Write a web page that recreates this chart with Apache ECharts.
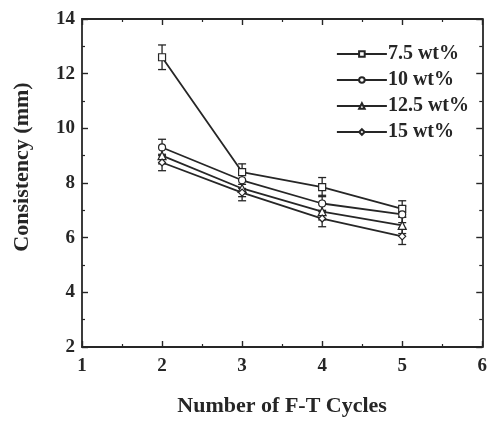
<!DOCTYPE html>
<html>
<head>
<meta charset="utf-8">
<script src="https://cdn.jsdelivr.net/npm/echarts@6/dist/echarts.min.js"></script>
<style>
  html, body { margin: 0; padding: 0; background: #fff; }
  #chart { width: 490px; height: 422px; }
</style>
</head>
<body>
<div id="chart"></div>
<script>
// Freeze-thaw cycles on the x axis
const cycles = [2, 3, 4, 5];

// Consistency (mm) for each concentration, with standard deviations
const seriesNames = ['7.5 wt%', '10 wt%', '12.5 wt%', '15 wt%'];
const c75  = [12.6, 8.4, 7.85, 7.05];
const c10  = [9.3, 8.1, 7.25, 6.85];
const c125 = [9.0, 7.8, 6.95, 6.45];
const c15  = [8.75, 7.65, 6.7, 6.05];
const e75  = [0.45, 0.3, 0.35, 0.3];
const e10  = [0.3, 0.3, 0.3, 0.3];
const e125 = [0.3, 0.3, 0.3, 0.3];
const e15  = [0.3, 0.3, 0.3, 0.3];

const xTicks = [1, 2, 3, 4, 5, 6];
const yTicks = [2, 4, 6, 8, 10, 12, 14];

const values = [c75, c10, c125, c15];
const errors = [e75, e10, e125, e15];
const symbols = ['rect', 'circle', 'triangle', 'diamond'];

const ink = '#262626';
const serif = '"Liberation Serif", "DejaVu Serif", serif';

const chart = echarts.init(document.getElementById('chart'));

const lineSeries = values.map((vals, i) => ({
  name: seriesNames[i],
  type: 'line',
  data: cycles.map((c, j) => [c, vals[j]]),
  symbol: symbols[i],
  symbolSize: symbols[i] === 'triangle' ? 8 : 7,
  lineStyle: { color: ink, width: 1.8 },
  itemStyle: { color: '#fff', borderColor: ink, borderWidth: 1.2 },
  z: 3
}));

const errorSeries = values.map((vals, i) => ({
  type: 'custom',
  data: cycles.map((c, j) => [c, vals[j] - errors[i][j], vals[j] + errors[i][j]]),
  renderItem: function (params, api) {
    const lo = api.coord([api.value(0), api.value(1)]);
    const hi = api.coord([api.value(0), api.value(2)]);
    const w = 4;
    const st = { stroke: ink, lineWidth: 1.3 };
    return {
      type: 'group',
      children: [
        { type: 'line', shape: { x1: lo[0], y1: lo[1], x2: hi[0], y2: hi[1] }, style: st },
        { type: 'line', shape: { x1: lo[0] - w, y1: lo[1], x2: lo[0] + w, y2: lo[1] }, style: st },
        { type: 'line', shape: { x1: hi[0] - w, y1: hi[1], x2: hi[0] + w, y2: hi[1] }, style: st }
      ]
    };
  },
  z: 2,
  silent: true
}));

const tickCommon = {
  axisLine: { show: true, lineStyle: { color: ink, width: 1.8 } },
  axisTick: { show: true, inside: true, length: 6, lineStyle: { color: ink, width: 1.4 } },
  minorTick: { show: true, splitNumber: 2, length: 3, lineStyle: { color: ink, width: 1.2 } },
  splitLine: { show: false }
};

chart.setOption({
  animation: false,
  backgroundColor: '#fff',
  grid: { left: 82, right: 7, top: 19, bottom: 70 },
  legend: {
    right: 16,
    top: 39,
    orient: 'vertical',
    itemGap: 6,
    itemWidth: 50,
    itemHeight: 7,
    data: seriesNames,
    textStyle: { fontFamily: serif, fontWeight: 'bold', fontSize: 20, color: ink, padding: [0, 0, 0, -4] }
  },
  xAxis: [
    Object.assign({
      type: 'value', min: xTicks[0], max: xTicks[xTicks.length - 1], interval: 1,
      name: 'Number of F-T Cycles', nameLocation: 'middle', nameGap: 48,
      nameTextStyle: { fontFamily: serif, fontWeight: 'bold', fontSize: 22, color: ink },
      axisLabel: { fontFamily: serif, fontWeight: 'bold', fontSize: 19, color: ink, margin: 10 }
    }, tickCommon),
    Object.assign({
      type: 'value', position: 'top', min: xTicks[0], max: xTicks[xTicks.length - 1], interval: 1,
      axisLabel: { show: false }
    }, tickCommon)
  ],
  yAxis: [
    Object.assign({
      type: 'value', min: yTicks[0], max: yTicks[yTicks.length - 1], interval: 2,
      name: 'Consistency (mm)', nameLocation: 'middle', nameGap: 49,
      nameTextStyle: { fontFamily: serif, fontWeight: 'bold', fontSize: 22, color: ink, padding: [0, 0, 0, 32] },
      axisLabel: { fontFamily: serif, fontWeight: 'bold', fontSize: 19, color: ink, margin: 7 }
    }, tickCommon),
    Object.assign({
      type: 'value', position: 'right', min: yTicks[0], max: yTicks[yTicks.length - 1], interval: 2,
      axisLabel: { show: false }
    }, tickCommon)
  ],
  series: errorSeries.concat(lineSeries)
});
</script>
</body>
</html>
